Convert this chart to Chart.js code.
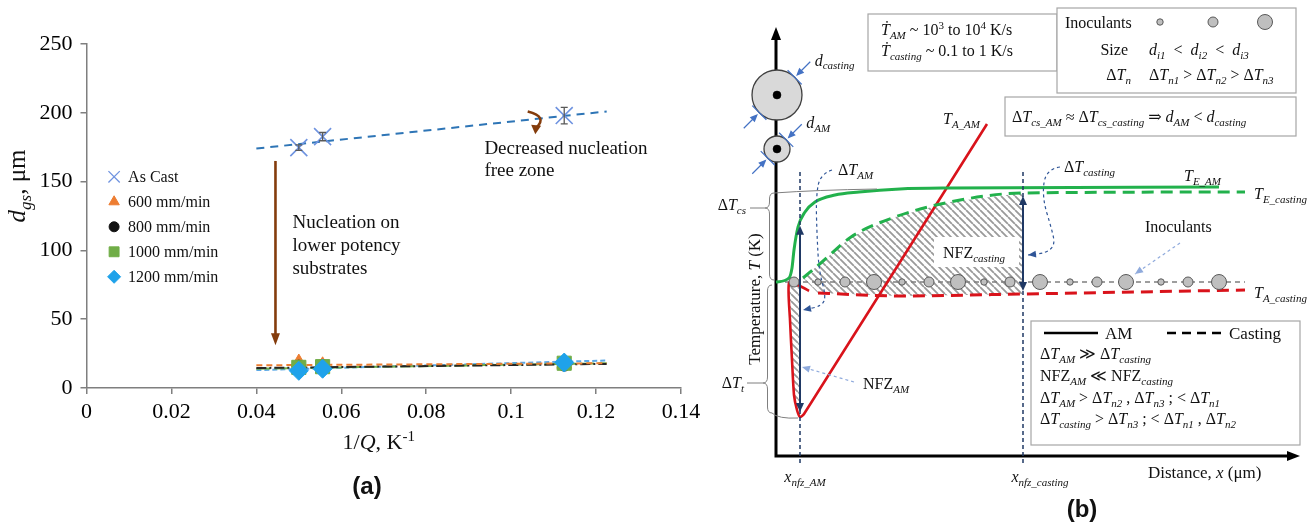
<!DOCTYPE html>
<html>
<head>
<meta charset="utf-8">
<title>Grain size and nucleation-free zone</title>
<script src="https://cdn.jsdelivr.net/npm/chart.js@4.4.1/dist/chart.umd.min.js"></script>
<style>
  body { margin: 0; background: #fff; }
  #wrap { position: relative; width: 1307px; height: 523px; overflow: hidden; }
  canvas { position: absolute; top: 0; }
  #grainChart { left: 0; }
  #nfzChart { left: 700px; }
</style>
</head>
<body>
<div id="wrap">
  <canvas id="grainChart" width="710" height="523"></canvas>
  <canvas id="nfzChart" width="607" height="523"></canvas>
</div>
<script>
// ---------- (a) grain size vs 1/Q ----------
const invQ = [0.05, 0.0556, 0.1125];
const asCast = [174.7, 182.7, 198.0];
const asCastErr = [2, 3, 6];
const speed600 = [18.5, 16.5, 17.5];
const speed800 = [15.5, 16.0, 17.0];
const speed1000 = [15.0, 15.5, 18.0];
const speed1200 = [12.5, 14.0, 18.5];
const fitQ = [0.04, 0.1225];
const fitAsCast = [174, 201];
const fit600 = [16.5, 18.0];
const fit800 = [14.5, 17.5];
const fit1000 = [14.0, 18.0];
const fit1200 = [13.0, 20.0];
const seriesLabels = ['As Cast', '600 mm/min', '800 mm/min', '1000 mm/min', '1200 mm/min'];
const xTickVals = [0, 0.02, 0.04, 0.06, 0.08, 0.1, 0.12, 0.14];
const yTickVals = [0, 50, 100, 150, 200, 250];

// ---------- (b) schematic: distance (μm) vs temperature (K), arbitrary units ----------
const eAmX = [0, 13, 16, 18, 22, 29, 39, 59, 83, 124, 174, 443];
const eAmT = [174, 178, 188, 206, 229, 244, 254, 261, 264, 267, 268, 269];
const eCastX = [27, 46, 75, 119, 174, 247, 469];
const eCastT = [178, 194, 219, 239, 254, 263, 264];
const aAmX = [33, 24, 13, 14, 16, 18, 21, 24, 28, 211];
const aAmT = [165, 170, 173, 136, 96, 61, 46, 39, 42, 332];
const aCastX = [42, 124, 247, 469];
const aCastT = [163, 160, 162, 166];
const inocX = [18, 42, 69, 98, 126, 153, 182, 208, 234, 264, 294, 321, 350, 385, 412, 443];
const inocSize = [2, 1, 2, 3, 1, 2, 3, 1, 2, 3, 1, 2, 3, 1, 2, 3];
const inocT = 174;
const inocEnd = 469;
const xNfzAM = 24;
const xNfzCasting = 247;
const grainT = [361, 307];      // casting grain, AM grain

const SERIF = '"Liberation Serif", "DejaVu Serif", serif';
const SANS = '"Liberation Sans", "DejaVu Sans", sans-serif';

const pts = (xs, ys) => xs.map((x, i) => ({ x, y: ys[i] }));

function interp(xs, ys, u) {
  for (let i = 1; i < xs.length; i++) {
    if (u <= xs[i]) return ys[i - 1] + (ys[i] - ys[i - 1]) * (u - xs[i - 1]) / (xs[i] - xs[i - 1]);
  }
  return ys[ys.length - 1];
}

// tiny markup: *italic*, _{sub}, ^{sup}
function parseRich(s) {
  const out = []; let it = false, mode = 0, buf = '';
  const push = () => { if (buf) { out.push({ t: buf, it, mode }); buf = ''; } };
  for (let i = 0; i < s.length; i++) {
    const c = s[i];
    if (c === '*') { push(); it = !it; }
    else if ((c === '_' || c === '^') && s[i + 1] === '{') { push(); mode = c === '_' ? 1 : 2; i++; }
    else if (c === '}' && mode) { push(); mode = 0; }
    else buf += c;
  }
  push();
  return out;
}

function richText(ctx, s, x, y, size, align, family) {
  const fam = family || SERIF;
  const segs = parseRich(s);
  const fontOf = g => (g.it ? 'italic ' : '') + (g.mode ? Math.round(size * 0.68) : size) + 'px ' + fam;
  let w = 0;
  segs.forEach(g => { ctx.font = fontOf(g); g.w = ctx.measureText(g.t).width; w += g.w; });
  let cx = align === 'center' ? x - w / 2 : align === 'right' ? x - w : x;
  ctx.textAlign = 'left';
  ctx.textBaseline = 'alphabetic';
  const base = y + size * 0.33;
  segs.forEach(g => {
    ctx.font = fontOf(g);
    const dy = g.mode === 1 ? size * 0.22 : g.mode === 2 ? -size * 0.38 : 0;
    ctx.fillText(g.t, cx, base + dy);
    cx += g.w;
  });
  return w;
}

function head(ctx, x1, y1, x2, y2, len, half) {
  const a = Math.atan2(y2 - y1, x2 - x1);
  const c = Math.cos(a), s = Math.sin(a);
  ctx.beginPath();
  ctx.moveTo(x2, y2);
  ctx.lineTo(x2 - len * c + half * s, y2 - len * s - half * c);
  ctx.lineTo(x2 - len * c - half * s, y2 - len * s + half * c);
  ctx.closePath();
  ctx.fill();
}

function smoothPath(ctx, p) {
  ctx.moveTo(p[0][0], p[0][1]);
  for (let i = 1; i < p.length - 1; i++) {
    const mx = (p[i][0] + p[i + 1][0]) / 2, my = (p[i][1] + p[i + 1][1]) / 2;
    ctx.quadraticCurveTo(p[i][0], p[i][1], mx, my);
  }
  const l = p[p.length - 1];
  ctx.lineTo(l[0], l[1]);
}

// left-pointing curly brace
function brace(ctx, x, y1, y2, ytip, w) {
  const r = 6, m = x - w / 2;
  ctx.beginPath();
  ctx.moveTo(x, y1);
  ctx.quadraticCurveTo(m, y1, m, y1 + r);
  ctx.lineTo(m, ytip - r);
  ctx.quadraticCurveTo(m, ytip, x - w, ytip);
  ctx.quadraticCurveTo(m, ytip, m, ytip + r);
  ctx.lineTo(m, y2 - r);
  ctx.quadraticCurveTo(m, y2, x, y2);
  ctx.stroke();
}

// ---------- chart (a) ----------
const markers = [
  { style: 'crossRot', r: 12, fill: '#6f93e0', line: '#6f93e0', lr: 8 },
  { style: 'triangle', r: 8.5, fill: '#ed7d31', line: '#ed7d31', lr: 6 },
  { style: 'circle', r: 6.5, fill: '#111111', line: '#111111', lr: 5 },
  { style: 'rect', r: 10, fill: '#70ad47', line: '#70ad47', lr: 7 },
  { style: 'rectRot', r: 9.5, fill: '#1fa2ea', line: '#1fa2ea', lr: 6.5 }
];
const fitStyles = [
  { color: '#2e75b6', dash: [8, 6], w: 2 },
  { color: '#ed7d31', dash: [6, 4], w: 2 },
  { color: '#262626', dash: [10, 3, 2, 3], w: 2 },
  { color: '#70ad47', dash: [14, 4], w: 2 },
  { color: '#5ba8e6', dash: [5, 3], w: 2 }
];
const grainSets = [asCast, speed600, speed800, speed1000, speed1200];
const fitSets = [fitAsCast, fit600, fit800, fit1000, fit1200];

const grainDatasets = [];
fitSets.forEach((f, i) => grainDatasets.push({
  label: seriesLabels[i] + ' trend',
  data: pts(fitQ, f),
  showLine: true,
  pointRadius: 0,
  borderColor: fitStyles[i].color,
  borderDash: fitStyles[i].dash,
  borderWidth: fitStyles[i].w,
  order: 10 + i
}));
grainSets.forEach((g, i) => grainDatasets.push({
  label: seriesLabels[i],
  data: pts(invQ, g),
  pointStyle: markers[i].style,
  pointRadius: markers[i].r,
  backgroundColor: markers[i].fill,
  borderColor: markers[i].line,
  borderWidth: i === 0 ? 1.6 : 1,
  order: 5 - i
}));

const grainDecor = {
  id: 'grainDecor',
  afterDatasetsDraw(chart) {
    const { ctx, scales: { x, y } } = chart;
    const X = v => x.getPixelForValue(v), Y = v => y.getPixelForValue(v);
    ctx.save();

    // error bars on the as-cast grains
    ctx.strokeStyle = '#595959';
    ctx.lineWidth = 1.3;
    invQ.forEach((q, i) => {
      const px = X(q), t = Y(asCast[i] + asCastErr[i]), b = Y(asCast[i] - asCastErr[i]);
      ctx.beginPath();
      ctx.moveTo(px, t); ctx.lineTo(px, b);
      ctx.moveTo(px - 3.5, t); ctx.lineTo(px + 3.5, t);
      ctx.moveTo(px - 3.5, b); ctx.lineTo(px + 3.5, b);
      ctx.stroke();
    });

    // legend inside the plot
    const lx = X(0.0065);
    seriesLabels.forEach((name, i) => {
      const ly = Y(153.5) + i * 25;
      const m = markers[i];
      ctx.fillStyle = m.fill; ctx.strokeStyle = m.line; ctx.lineWidth = i === 0 ? 1.3 : 1;
      Chart.helpers.drawPoint(ctx, { pointStyle: m.style, radius: m.lr, borderWidth: i === 0 ? 1.3 : 1, rotation: 0 }, lx, ly);
      ctx.fillStyle = '#111';
      richText(ctx, name, lx + 14, ly, 16, 'left');
    });

    // arrows
    const brown = '#843c0c';
    ctx.strokeStyle = brown; ctx.fillStyle = brown; ctx.lineWidth = 2.6;
    const ax = X(0.0445), a1 = Y(165), a2 = Y(31);
    ctx.beginPath(); ctx.moveTo(ax, a1); ctx.lineTo(ax, a2 - 10); ctx.stroke();
    head(ctx, ax, a1, ax, a2, 12, 4.5);
    const c0 = [X(0.1039), Y(200.9)], c1 = [X(0.1088), Y(197)], c2 = [X(0.1058), Y(189)];
    ctx.beginPath(); ctx.moveTo(c0[0], c0[1]); ctx.quadraticCurveTo(c1[0], c1[1], c2[0], c2[1]); ctx.stroke();
    head(ctx, c2[0] + 0.5, c2[1] - 4, c2[0] - 0.5, Y(184.5), 9, 5);

    // notes
    ctx.fillStyle = '#111';
    ['Nucleation on', 'lower potency', 'substrates'].forEach((s, i) => richText(ctx, s, X(0.0485), Y(120.8) + i * 23, 19, 'left'));
    ['Decreased nucleation', 'free zone'].forEach((s, i) => richText(ctx, s, X(0.0937), Y(174.7) + i * 22, 19, 'left'));

    // axis titles
    ctx.save();
    ctx.translate(17, 186);
    ctx.rotate(-Math.PI / 2);
    richText(ctx, '*d*_{*gs*}, μm', 0, 0, 25, 'center');
    ctx.restore();
    richText(ctx, '1/*Q*, K^{-1}', (x.left + x.right) / 2 - 5, 442, 22, 'center');

    ctx.font = 'bold 24px ' + SANS;
    ctx.textAlign = 'center'; ctx.textBaseline = 'middle';
    ctx.fillText('(a)', 367, 487);
    ctx.restore();
  }
};

const axisFont = { family: SERIF, size: 22 };
new Chart(document.getElementById('grainChart'), {
  type: 'scatter',
  data: { datasets: grainDatasets },
  options: {
    responsive: false,
    animation: false,
    events: [],
    layout: { padding: { left: 0, top: 44, right: 29, bottom: 0 }, autoPadding: false },
    plugins: { legend: { display: false }, tooltip: { enabled: false } },
    scales: {
      x: {
        type: 'linear', min: 0, max: 0.14,
        afterBuildTicks: s => { s.ticks = xTickVals.map(v => ({ value: v })); },
        afterFit: s => { s.height = 135; },
        ticks: { font: axisFont, color: '#000', padding: 5, maxRotation: 0, callback: v => String(+v.toFixed(2)) },
        grid: { drawOnChartArea: false, tickLength: 6, color: '#7f7f7f', lineWidth: 1.5 },
        border: { color: '#7f7f7f', width: 1.5 }
      },
      y: {
        type: 'linear', min: 0, max: 250,
        afterBuildTicks: s => { s.ticks = yTickVals.map(v => ({ value: v })); },
        afterFit: s => { s.width = 86.5; },
        ticks: { font: axisFont, color: '#000', padding: 8 },
        grid: { drawOnChartArea: false, tickLength: 6, color: '#7f7f7f', lineWidth: 1.5 },
        border: { color: '#7f7f7f', width: 1.5 }
      }
    }
  },
  plugins: [grainDecor]
});

// ---------- chart (b) ----------
const hatchTile = document.createElement('canvas');
hatchTile.width = 7; hatchTile.height = 7;
(() => {
  const g = hatchTile.getContext('2d');
  g.strokeStyle = '#9a9a9a'; g.lineWidth = 1.8;
  g.beginPath();
  [-7, 0, 7].forEach(k => { g.moveTo(k, 0); g.lineTo(k + 7, 7); });
  g.stroke();
})();
const hatch = hatchTile.getContext('2d').createPattern(hatchTile, 'repeat');

// nucleation-free zones bounded by the curves
const nfzCastingShape = pts(eCastX, eCastT).filter(p => p.x <= xNfzCasting)
  .concat(pts(aCastX, aCastT).filter(p => p.x <= xNfzCasting).reverse());
const nfzAmShape = [{ x: xNfzAM, y: aAmT[2] }].concat(pts(aAmX, aAmT).slice(2, 8));
const inocRadius = [3.2, 5, 7.5];

const line = (data, color, extra) => Object.assign({
  data, showLine: true, pointRadius: 0, borderColor: color, borderWidth: 3, clip: false, order: 5
}, extra || {});

const nfzDatasets = [
  { data: nfzCastingShape, showLine: true, pointRadius: 0, borderColor: 'rgba(0,0,0,0)', backgroundColor: hatch, fill: 'shape', order: 9 },
  { data: nfzAmShape, showLine: true, pointRadius: 0, borderColor: 'rgba(0,0,0,0)', backgroundColor: hatch, fill: 'shape', order: 9 },
  line([{ x: 0, y: inocT }, { x: inocEnd, y: inocT }], '#7f7f7f', { borderWidth: 1.5, borderDash: [5, 4], order: 7 }),
  line(pts(eAmX, eAmT), '#22b14c', { cubicInterpolationMode: 'monotone' }),
  line(pts(eCastX, eCastT), '#22b14c', { cubicInterpolationMode: 'monotone', borderDash: [12, 7] }),
  line(pts(aAmX, aAmT), '#d9131b', { tension: 0.2, borderWidth: 2.6 }),
  line(pts(aCastX, aCastT), '#d9131b', { cubicInterpolationMode: 'monotone', borderDash: [12, 7] }),
  line([{ x: xNfzAM, y: 284 }, { x: xNfzAM, y: -10 }], '#1f3864', { borderWidth: 1.5, borderDash: [4, 3], order: 4 }),
  line([{ x: xNfzCasting, y: 284 }, { x: xNfzCasting, y: -10 }], '#1f3864', { borderWidth: 1.5, borderDash: [4, 3], order: 4 }),
  {
    data: inocX.map(u => ({ x: u, y: inocT })),
    pointRadius: c => inocRadius[inocSize[c.dataIndex] - 1],
    backgroundColor: '#bfbfbf', borderColor: '#595959', borderWidth: 1, clip: false, order: 3
  },
  { data: grainT.map(t => ({ x: 1, y: t })), pointRadius: [25, 13], backgroundColor: '#d9d9d9', borderColor: '#404040', borderWidth: 1.3, clip: false, order: 2 },
  { data: grainT.map(t => ({ x: 1, y: t })), pointRadius: 4, backgroundColor: '#000', borderColor: '#000', borderWidth: 0.5, clip: false, order: 1 }
];

const nfzDecor = {
  id: 'nfzDecor',
  beforeDatasetsDraw(chart) {
    const { ctx, scales: { x, y } } = chart;
    const P = (u, t) => [x.getPixelForValue(u), y.getPixelForValue(t)];
    ctx.save();
    ctx.strokeStyle = '#000'; ctx.fillStyle = '#000'; ctx.lineWidth = 3;
    const o = P(0, 0), top = P(0, 429), right = P(524, 0);
    ctx.beginPath();
    ctx.moveTo(o[0], o[1] + 1.5); ctx.lineTo(top[0], top[1] + 10);
    ctx.moveTo(o[0] - 1.5, o[1]); ctx.lineTo(right[0] - 10, right[1]);
    ctx.stroke();
    head(ctx, o[0], o[1], top[0], top[1], 13, 5);
    head(ctx, o[0], o[1], right[0], right[1], 13, 5);
    ctx.restore();
  },
  afterDatasetsDraw(chart) {
    const { ctx, scales: { x, y } } = chart;
    const P = (u, t) => [x.getPixelForValue(u), y.getPixelForValue(t)];
    const T = (s, u, t, size, align) => { const p = P(u, t); return richText(ctx, s, p[0], p[1], size || 16, align || 'left'); };
    ctx.save();

    // undercooling arrows at the edge of each nucleation-free zone
    ctx.strokeStyle = ctx.fillStyle = '#1f3864'; ctx.lineWidth = 2;
    [[xNfzAM, interp(eAmX, eAmT, xNfzAM) - 3, Math.min(...aAmT) + 5],
     [xNfzCasting, interp(eCastX, eCastT, xNfzCasting) - 3, interp(aCastX, aCastT, xNfzCasting) + 3]].forEach(([u, t1, t2]) => {
      const a = P(u, t1), b = P(u, t2);
      ctx.beginPath(); ctx.moveTo(a[0], a[1] + 6); ctx.lineTo(b[0], b[1] - 6); ctx.stroke();
      head(ctx, b[0], b[1], a[0], a[1], 9, 4);
      head(ctx, a[0], a[1], b[0], b[1], 9, 4);
    });

    // label patch inside the casting NFZ
    const b0 = P(158, 219), b1 = P(243, 189);
    ctx.fillStyle = '#fff';
    ctx.fillRect(b0[0], b0[1], b1[0] - b0[0], b1[1] - b0[1]);
    ctx.fillStyle = '#111';
    T('NFZ_{*casting*}', 167, 203);

    // dashed leaders
    const leader = (list, color, dash) => {
      const p = list.map(q => P(q[0], q[1]));
      ctx.strokeStyle = color; ctx.fillStyle = color; ctx.lineWidth = 1.2;
      ctx.setLineDash(dash);
      ctx.beginPath(); smoothPath(ctx, p); ctx.stroke();
      ctx.setLineDash([]);
      const n = p.length;
      head(ctx, p[n - 2][0], p[n - 2][1], p[n - 1][0], p[n - 1][1], 8, 3.5);
    };
    leader([[56, 286], [44, 282], [40, 258], [41, 220], [43, 185], [50, 160], [46, 150], [27, 146]], '#2f5597', [3, 3]);
    leader([[284, 289], [270, 287], [266, 259], [276, 226], [279, 211], [270, 203], [252, 201]], '#2f5597', [3, 3]);
    leader([[78, 74], [26, 89]], '#8faadc', [3, 3]);
    leader([[404, 213], [359, 182]], '#8faadc', [3, 3]);

    // braces for the undercooling ranges
    ctx.strokeStyle = '#7f7f7f'; ctx.lineWidth = 1;
    const bc = P(-2, 263), bcb = P(-2, 176), bct = P(-2, 248);
    brace(ctx, bc[0], bc[1], bcb[1], bct[1], 9);
    ctx.beginPath(); ctx.moveTo(bc[0] - 9, bct[1]); ctx.lineTo(P(-26, 0)[0], bct[1]); ctx.stroke();
    let g0 = P(-2, 263), g1 = P(101, 267);
    ctx.beginPath(); ctx.moveTo(g0[0], g0[1]); ctx.quadraticCurveTo(P(40, 266)[0], P(40, 266)[1], g1[0], g1[1]); ctx.stroke();
    const bt = P(-4, 171), btb = P(-4, 43), btt = P(-4, 73);
    brace(ctx, bt[0], bt[1], btb[1], btt[1], 9);
    ctx.beginPath(); ctx.moveTo(bt[0] - 9, btt[1]); ctx.lineTo(P(-29, 0)[0], btt[1]); ctx.stroke();
    g0 = P(-4, 43); g1 = P(22, 38);
    const gc = P(2, 37);
    ctx.beginPath(); ctx.moveTo(g0[0], g0[1]); ctx.quadraticCurveTo(gc[0], gc[1], g1[0], g1[1]); ctx.stroke();

    // grain diameter markers
    const rad = [25, 13];
    const dNames = ['*d*_{*casting*}', '*d*_{*AM*}'];
    const d = Math.SQRT1_2;
    ctx.strokeStyle = ctx.fillStyle = '#4472c4'; ctx.lineWidth = 1.2;
    grainT.forEach((t, i) => {
      const c = P(1, t);
      [1, -1].forEach(sgn => {
        const px = c[0] + sgn * rad[i] * d, py = c[1] - sgn * rad[i] * d;
        ctx.beginPath();
        ctx.moveTo(px - 10 * d, py - 10 * d); ctx.lineTo(px + 10 * d, py + 10 * d);
        ctx.moveTo(px + sgn * 22 * d, py - sgn * 22 * d); ctx.lineTo(px + sgn * 4 * d, py - sgn * 4 * d);
        ctx.stroke();
        head(ctx, px + sgn * 22 * d, py - sgn * 22 * d, px + sgn * 2 * d, py - sgn * 2 * d, 8, 3.5);
      });
      ctx.save(); ctx.fillStyle = '#111';
      const lp = [c[0] + rad[i] * d + 20, c[1] - rad[i] * d - 17];
      richText(ctx, dNames[i], lp[0], lp[1], 16, 'left');
      ctx.restore();
    });

    // curve and axis labels
    ctx.fillStyle = '#111';
    T('Δ*T*_{*cs*}', -30, 251, 16, 'right');
    T('Δ*T*_{*t*}', -32, 73, 16, 'right');
    T('Δ*T*_{*AM*}', 62, 286);
    T('Δ*T*_{*casting*}', 288, 289);
    T('*T*_{*E_AM*}', 408, 280);
    T('*T*_{*E_casting*}', 478, 262);
    T('*T*_{*A_casting*}', 478, 163);
    T('*T*_{*A_AM*}', 167, 337);
    T('Inoculants', 369, 229);
    T('NFZ_{*AM*}', 87, 72);
    T('*x*_{*nfz_AM*}', 29, -21, 16, 'center');
    T('*x*_{*nfz_casting*}', 264, -21, 16, 'center');
    T('Distance, *x* (μm)', 372, -16, 17);
    const tl = P(-22, 157);
    ctx.save(); ctx.translate(tl[0], tl[1]); ctx.rotate(-Math.PI / 2);
    richText(ctx, 'Temperature, *T* (K)', 0, 0, 17, 'center');
    ctx.restore();

    // boxes
    const box = (u0, t0, u1, t1) => {
      const p0 = P(u0, t0), p1 = P(u1, t1);
      ctx.fillStyle = '#fff'; ctx.strokeStyle = '#a6a6a6'; ctx.lineWidth = 1.2;
      ctx.fillRect(p0[0], p0[1], p1[0] - p0[0], p1[1] - p0[1]);
      ctx.strokeRect(p0[0], p0[1], p1[0] - p0[0], p1[1] - p0[1]);
      ctx.fillStyle = '#111';
    };
    box(92, 442, 281, 385);
    T('*Ṫ*_{*AM*} ~ 10^{3} to 10^{4} K/s', 105, 426);
    T('*Ṫ*_{*casting*} ~ 0.1 to 1 K/s', 105, 405);

    box(281, 448, 520, 363);
    T('Inoculants', 289, 433);
    inocRadius.forEach((r, i) => {
      const c = P([384, 437, 489][i], 434);
      ctx.beginPath(); ctx.arc(c[0], c[1], r, 0, Math.PI * 2);
      ctx.fillStyle = '#bfbfbf'; ctx.fill();
      ctx.strokeStyle = '#595959'; ctx.lineWidth = 1; ctx.stroke();
    });
    ctx.fillStyle = '#111';
    T('Size', 352, 406, 16, 'right');
    T('*d*_{*i1*}  <  *d*_{*i2*}  <  *d*_{*i3*}', 373, 406);
    T('Δ*T*_{*n*}', 355, 381, 16, 'right');
    T('Δ*T*_{*n1*} > Δ*T*_{*n2*} > Δ*T*_{*n3*}', 373, 381);

    box(229, 359, 520, 320);
    T('Δ*T*_{*cs_AM*} ≈ Δ*T*_{*cs_casting*} ⇒ *d*_{*AM*} < *d*_{*casting*}', 236, 339);

    box(255, 135, 524, 11);
    const s0 = P(268, 123), s1 = P(322, 123), k0 = P(391, 123), k1 = P(445, 123);
    ctx.strokeStyle = '#000'; ctx.lineWidth = 2.6;
    ctx.beginPath(); ctx.moveTo(s0[0], s0[1]); ctx.lineTo(s1[0], s1[1]); ctx.stroke();
    ctx.setLineDash([9, 6]);
    ctx.beginPath(); ctx.moveTo(k0[0], k0[1]); ctx.lineTo(k1[0], k1[1]); ctx.stroke();
    ctx.setLineDash([]);
    T('AM', 329, 123, 17);
    T('Casting', 453, 123, 17);
    T('Δ*T*_{*AM*} ≫ Δ*T*_{*casting*}', 264, 102);
    T('NFZ_{*AM*} ≪ NFZ_{*casting*}', 264, 80);
    T('Δ*T*_{*AM*} > Δ*T*_{*n2*} , Δ*T*_{*n3*} ; < Δ*T*_{*n1*}', 264, 58);
    T('Δ*T*_{*casting*} > Δ*T*_{*n3*} ; < Δ*T*_{*n1*} , Δ*T*_{*n2*}', 264, 37);

    const pb = P(306, -54);
    ctx.font = 'bold 24px ' + SANS;
    ctx.textAlign = 'center'; ctx.textBaseline = 'middle';
    ctx.fillText('(b)', pb[0], pb[1]);
    ctx.restore();
  }
};

new Chart(document.getElementById('nfzChart'), {
  type: 'scatter',
  data: { datasets: nfzDatasets },
  options: {
    responsive: false,
    animation: false,
    events: [],
    layout: { padding: { left: 76, right: 7, top: 27, bottom: 67 }, autoPadding: false },
    plugins: { legend: { display: false }, tooltip: { enabled: false } },
    scales: {
      x: { type: 'linear', min: 0, max: 524, display: false },
      y: { type: 'linear', min: 0, max: 429, display: false }
    }
  },
  plugins: [nfzDecor]
});
</script>
</body>
</html>
